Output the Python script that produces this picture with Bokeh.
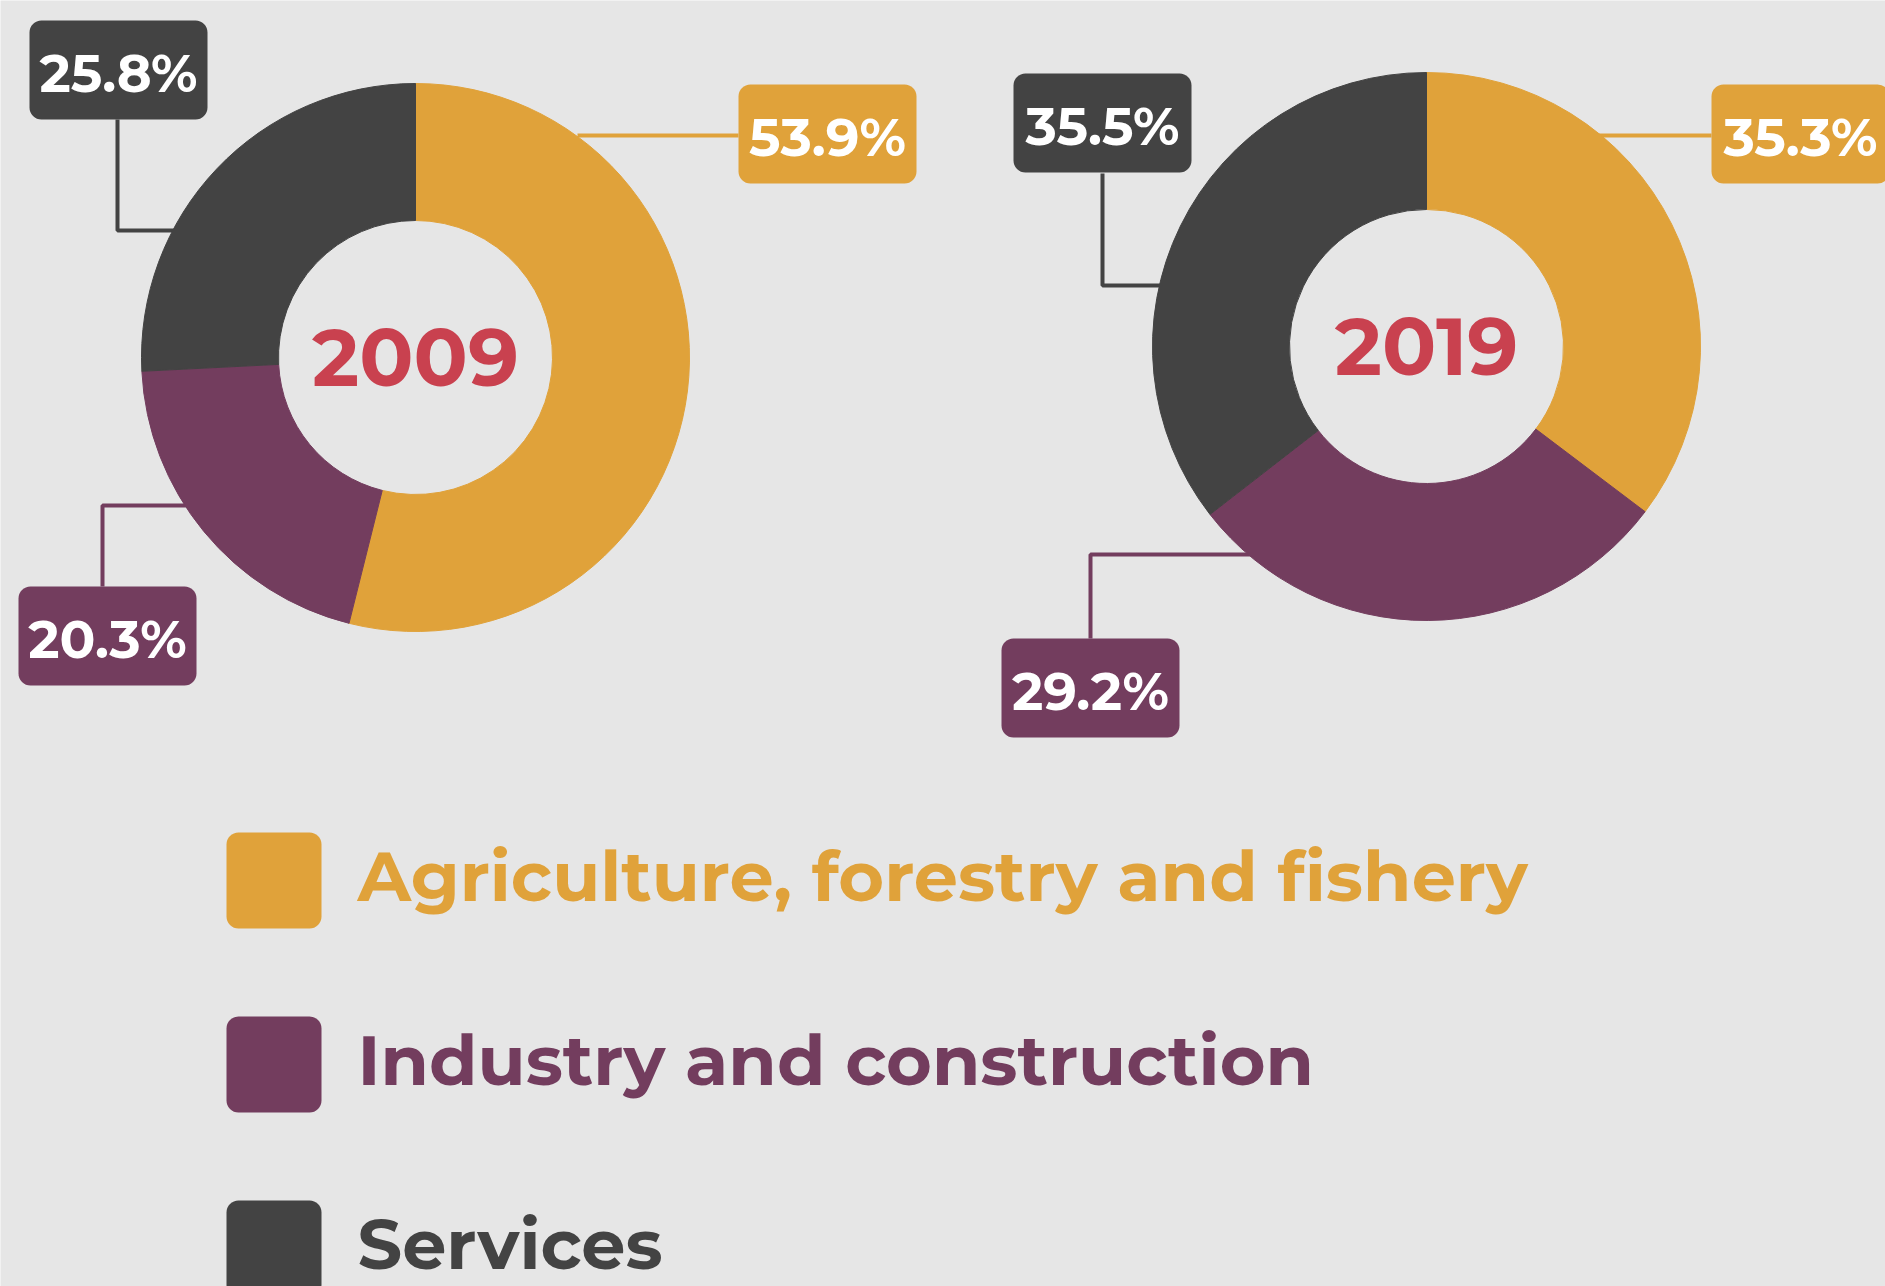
import math
from bokeh.plotting import figure
from bokeh.models import Range1d
from bokeh.core.properties import value
from bokeh.embed import file_html
from bokeh.resources import INLINE

# ---- data ----
categories = ["Agriculture, forestry and fishery", "Industry and construction", "Services"]
colors = ["#E0A23A", "#733D5E", "#434343"]
years = ["2009", "2019"]
shares_2009 = [53.9, 20.3, 25.8]
shares_2019 = [35.3, 29.2, 35.5]
labels_2009 = ["53.9%", "20.3%", "25.8%"]
labels_2019 = ["35.3%", "29.2%", "35.5%"]

BG = "#E6E6E6"
RED = "#C9414F"
FONT = "Montserrat, Open Sans"
W, H = 1885, 1286

def Y(yimg):
    return H - yimg

p = figure(width=W, height=H, output_backend="svg", toolbar_location=None,
           x_range=Range1d(0, W), y_range=Range1d(0, H),
           min_border=0, background_fill_color=BG, border_fill_color=BG,
           outline_line_color=None)
p.axis.visible = False
p.grid.visible = False

R_OUT, R_IN = 274, 137
donuts = [
    dict(year=years[0], shares=shares_2009, labels=labels_2009, cx=415, cy=357,
         boxes=[(738, 84), (18, 586), (29, 20)],
         lines=[([577, 738], [135, 135]),
                ([102, 102, 220], [586, 505, 505]),
                ([117, 117, 200], [119, 230, 230])]),
    dict(year=years[1], shares=shares_2019, labels=labels_2019, cx=1426, cy=346,
         boxes=[(1711, 84), (1001, 638), (1013, 73)],
         lines=[([1580, 1711], [135, 135]),
                ([1090, 1090, 1260], [638, 554, 554]),
                ([1102, 1102, 1180], [173, 285, 285])]),
]
BW, BH = 178, 99

for d in donuts:
    # connectors first (hidden under the ring)
    for (xs, ys), c in zip(d["lines"], colors):
        p.line(xs, [Y(v) for v in ys], line_color=c, line_width=4)
    total = sum(d["shares"])
    cum = 0.0
    for s, c in zip(d["shares"], colors):
        a0 = math.pi / 2 - 2 * math.pi * cum / total
        cum += s
        a1 = math.pi / 2 - 2 * math.pi * cum / total
        p.annular_wedge(x=d["cx"], y=Y(d["cy"]), inner_radius=R_IN, outer_radius=R_OUT,
                        start_angle=a0, end_angle=a1, direction="clock",
                        fill_color=c, line_color=c, line_width=1)
    p.text(x=[d["cx"]], y=[Y(d["cy"])], text=[d["year"]], text_color=RED,
           text_font=value(FONT), text_font_style="bold", text_font_size="80px",
           text_align="center", text_baseline="middle")
    for (bx, by), lab, c in zip(d["boxes"], d["labels"], colors):
        p.quad(left=bx, right=bx + BW, top=Y(by), bottom=Y(by + BH),
               fill_color=c, line_color=None, border_radius=12)
        p.text(x=[bx + BW / 2], y=[Y(by + BH / 2 + 3)], text=[lab], text_color="white",
               text_font=value(FONT), text_font_style="bold", text_font_size="53px",
               text_align="center", text_baseline="middle")

# legend
leg_y = [880, 1064, 1248]
for cat, c, ly in zip(categories, colors, leg_y):
    p.quad(left=226, right=321, top=Y(ly - 48), bottom=Y(ly + 48),
           fill_color=c, line_color=None, border_radius=12)
    p.text(x=[357], y=[Y(ly - 5)], text=[cat], text_color=c,
           text_font=value(FONT), text_font_style="bold", text_font_size="70px",
           text_align="left", text_baseline="middle")

html = file_html(p, INLINE)
open("out.html", "w").write(html)
